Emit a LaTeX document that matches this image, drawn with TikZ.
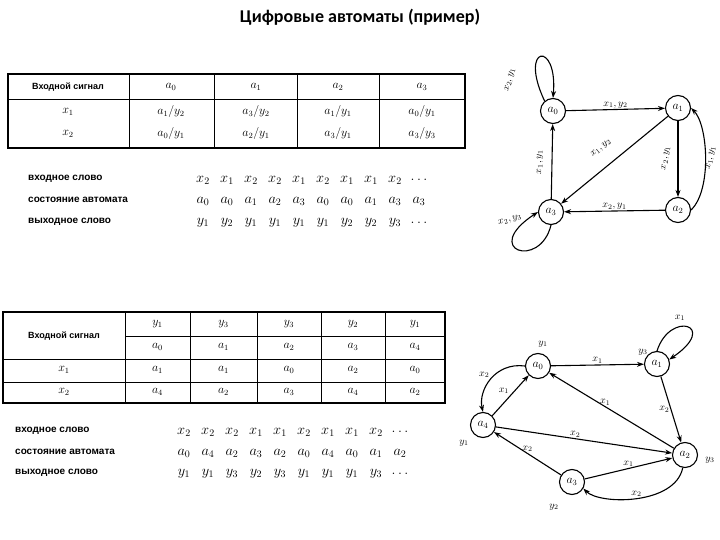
\documentclass[tikz,border=0pt]{standalone}
\usepackage{fontspec}
\setmainfont{Liberation Sans}
\newfontfamily\titlefont{Carlito}
\usetikzlibrary{arrows.meta}
\begin{document}
\begin{tikzpicture}[x=1pt,y=-1pt,
 st/.style={circle,draw,line width=1.1pt,minimum size=25pt,inner sep=0pt,font=\large},
 ed/.style={draw,line width=1.1pt,-{Stealth[length=7pt,width=5pt]}},
 lb/.style={font=\normalsize,inner sep=1pt},
 tl/.style={line width=1.3pt},
 tc/.style={font=\large},
 tx/.style={font=\normalsize\bfseries,anchor=west,inner sep=0pt},
 sq/.style={font=\Large,inner sep=0pt}]
\useasboundingbox (0,0) rectangle (720,540);
\node[font=\titlefont\bfseries\fontsize{18}{21}\selectfont] (title) at (360,17) {Цифровые автоматы (пример)};
% ---------- top table
\draw[tl] (8,74) rectangle (465,148);
\draw[line width=0.7pt] (8,99) -- (465,99);
\foreach \c in {129,214,297,379} \draw[line width=0.7pt] (\c,74) -- (\c,148);
\node[font=\small\bfseries] (h0) at (68,87) {Входной сигнал};
\node[tc] (h1) at (171,87) {$a_0$};\node[tc] (h2) at (256,87) {$a_1$};
\node[tc] (h3) at (338,87) {$a_2$};\node[tc] (h4) at (422,87) {$a_3$};
\node[tc] (r1) at (68,112) {$x_1$};\node[tc] (r2) at (68,134) {$x_2$};
\node[tc] (c11) at (171,112) {$a_1/y_2$};\node[tc] (c12) at (256,112) {$a_3/y_2$};
\node[tc] (c13) at (338,112) {$a_1/y_1$};\node[tc] (c14) at (422,112) {$a_0/y_1$};
\node[tc] (c21) at (171,134) {$a_0/y_1$};\node[tc] (c22) at (256,134) {$a_2/y_1$};
\node[tc] (c23) at (338,134) {$a_3/y_1$};\node[tc] (c24) at (422,134) {$a_3/y_3$};
\node[tx] (t1) at (28,179) {входное слово};
\node[tx] (t2) at (28,200) {состояние автомата};
\node[tx] (t3) at (28,222) {выходное слово};
\foreach \v [count=\i] in {x_2,x_1,x_2,x_2,x_1,x_2,x_1,x_1,x_2,\dots}
  \node[sq] (sa\i) at (203+24*\i-24,180) {$\v$};
\foreach \v [count=\i] in {a_0,a_0,a_1,a_2,a_3,a_0,a_0,a_1,a_3,a_3}
  \node[sq] (sb\i) at (203+24*\i-24,201) {$\v$};
\foreach \v [count=\i] in {y_1,y_2,y_1,y_1,y_1,y_1,y_2,y_2,y_3,\dots}
  \node[sq] (sc\i) at (203+24*\i-24,223) {$\v$};
% ---------- top graph
\node[st] (A0) at (553,111) {$a_0$};
\node[st] (A1) at (678,108) {$a_1$};
\node[st] (A2) at (678,210) {$a_2$};
\node[st] (A3) at (551,212) {$a_3$};
\draw[ed] (A0) -- node[lb,above] {$x_1,y_2$} (A1);
\draw[ed] (A1) -- (A3);
\node[lb,rotate=40] (d1) at (601,148) {$x_1,y_2$};
\draw[ed] (A1) -- (A2);
\node[lb,rotate=80] (d2) at (666,158) {$x_2,y_1$};
\draw[ed] (A2.east) .. controls (712,190) and (708,125) .. (A1.east);
\node[lb,rotate=78] (d3) at (711,158) {$x_1,y_1$};
\draw[ed] (A2) -- node[lb,above] {$x_2,y_1$} (A3);
\draw[ed] (A3) -- (A0);
\node[lb,rotate=90] (d4) at (540,162) {$x_1,y_1$};
\draw[ed] (A0.130) .. controls (518,45) and (558,40) .. (A0.north);
\node[lb,rotate=75] (l0) at (510,80) {$x_2,y_1$};
\draw[ed] (A3.south) .. controls (540,270) and (480,250) .. (A3.west);
\node[lb,rotate=15] (l3) at (510,220) {$x_2,y_3$};
% ---------- bottom table
\draw[tl] (3,312) rectangle (445,403);
\draw[line width=0.7pt] (125,336) -- (445,336);
\draw[line width=0.7pt] (3,359) -- (445,359);
\draw[line width=0.7pt] (3,382) -- (445,382);
\foreach \c in {125,190,257,321,385} \draw[line width=0.7pt] (\c,312) -- (\c,403);
\node[font=\small\bfseries] (bh) at (64,336) {Входной сигнал};
\foreach \cx/\ya/\aa/\xa/\za [count=\i] in {157.5/y_1/a_0/a_1/a_4, 223.5/y_3/a_1/a_1/a_2, 289/y_3/a_2/a_0/a_3, 353/y_2/a_3/a_2/a_4, 415/y_1/a_4/a_0/a_2}{
  \node[tc] (by\i) at (\cx,324) {$\ya$};
  \node[tc] (ba\i) at (\cx,347) {$\aa$};
  \node[tc] (bx\i) at (\cx,370) {$\xa$};
  \node[tc] (bz\i) at (\cx,392) {$\za$};
}
\node[tc] (br1) at (64,370) {$x_1$};\node[tc] (br2) at (64,392) {$x_2$};
\node[tx] (u1) at (15,431) {входное слово};
\node[tx] (u2) at (15,452) {состояние автомата};
\node[tx] (u3) at (15,473) {выходное слово};
\foreach \v [count=\i] in {x_2,x_2,x_2,x_1,x_1,x_2,x_1,x_1,x_2,\dots}
  \node[sq] (ua\i) at (184+24*\i-24,432) {$\v$};
\foreach \v [count=\i] in {a_0,a_4,a_2,a_3,a_2,a_0,a_4,a_0,a_1,a_2}
  \node[sq] (ub\i) at (184+24*\i-24,453) {$\v$};
\foreach \v [count=\i] in {y_1,y_1,y_3,y_2,y_3,y_1,y_1,y_1,y_3,\dots}
  \node[sq] (uc\i) at (184+24*\i-24,474) {$\v$};
% ---------- bottom graph
\node[st] (B0) at (538,366) {$a_0$};
\node[st] (B1) at (657,364) {$a_1$};
\node[st] (B4) at (483,425) {$a_4$};
\node[st] (B2) at (685,455) {$a_2$};
\node[st] (B3) at (572,482) {$a_3$};
\node[lb] (yb0) at (543,344) {$y_1$};
\node[lb] (yb1) at (643,352) {$y_3$};
\node[lb] (yb4) at (464,443) {$y_1$};
\node[lb] (yb2) at (710,460) {$y_3$};
\node[lb] (yb3) at (554,507) {$y_2$};
\draw[ed] (B0) -- node[lb,above] {$x_1$} (B1);
\draw[ed] (B1.north) .. controls (670,310) and (720,325) .. (B1.20);
\node[lb] (lx1) at (680,318) {$x_1$};
\draw[ed] (B1) -- node[lb,left] {$x_2$} (B2);
\draw[ed] (B2) -- node[lb,above,pos=0.55] {$x_1$} (B0);
\draw[ed] (B4) -- node[lb,above,pos=0.45] {$x_2$} (B2);
\draw[ed] (B3) -- node[lb,above] {$x_2$} (B4);
\draw[ed] (B3) -- node[lb,above] {$x_1$} (B2);
\draw[ed] (B2.-100) .. controls (675,505) and (600,505) .. node[lb,above] {$x_2$} (B3.-30);
\draw[ed] (B0.west) .. controls (495,362) and (478,390) .. node[lb,above left] {$x_2$} (B4.north);
\draw[ed] (B4.north east) -- node[lb,above left,pos=0.5] {$x_1$} (B0.south west);
\end{tikzpicture}
\end{document}
